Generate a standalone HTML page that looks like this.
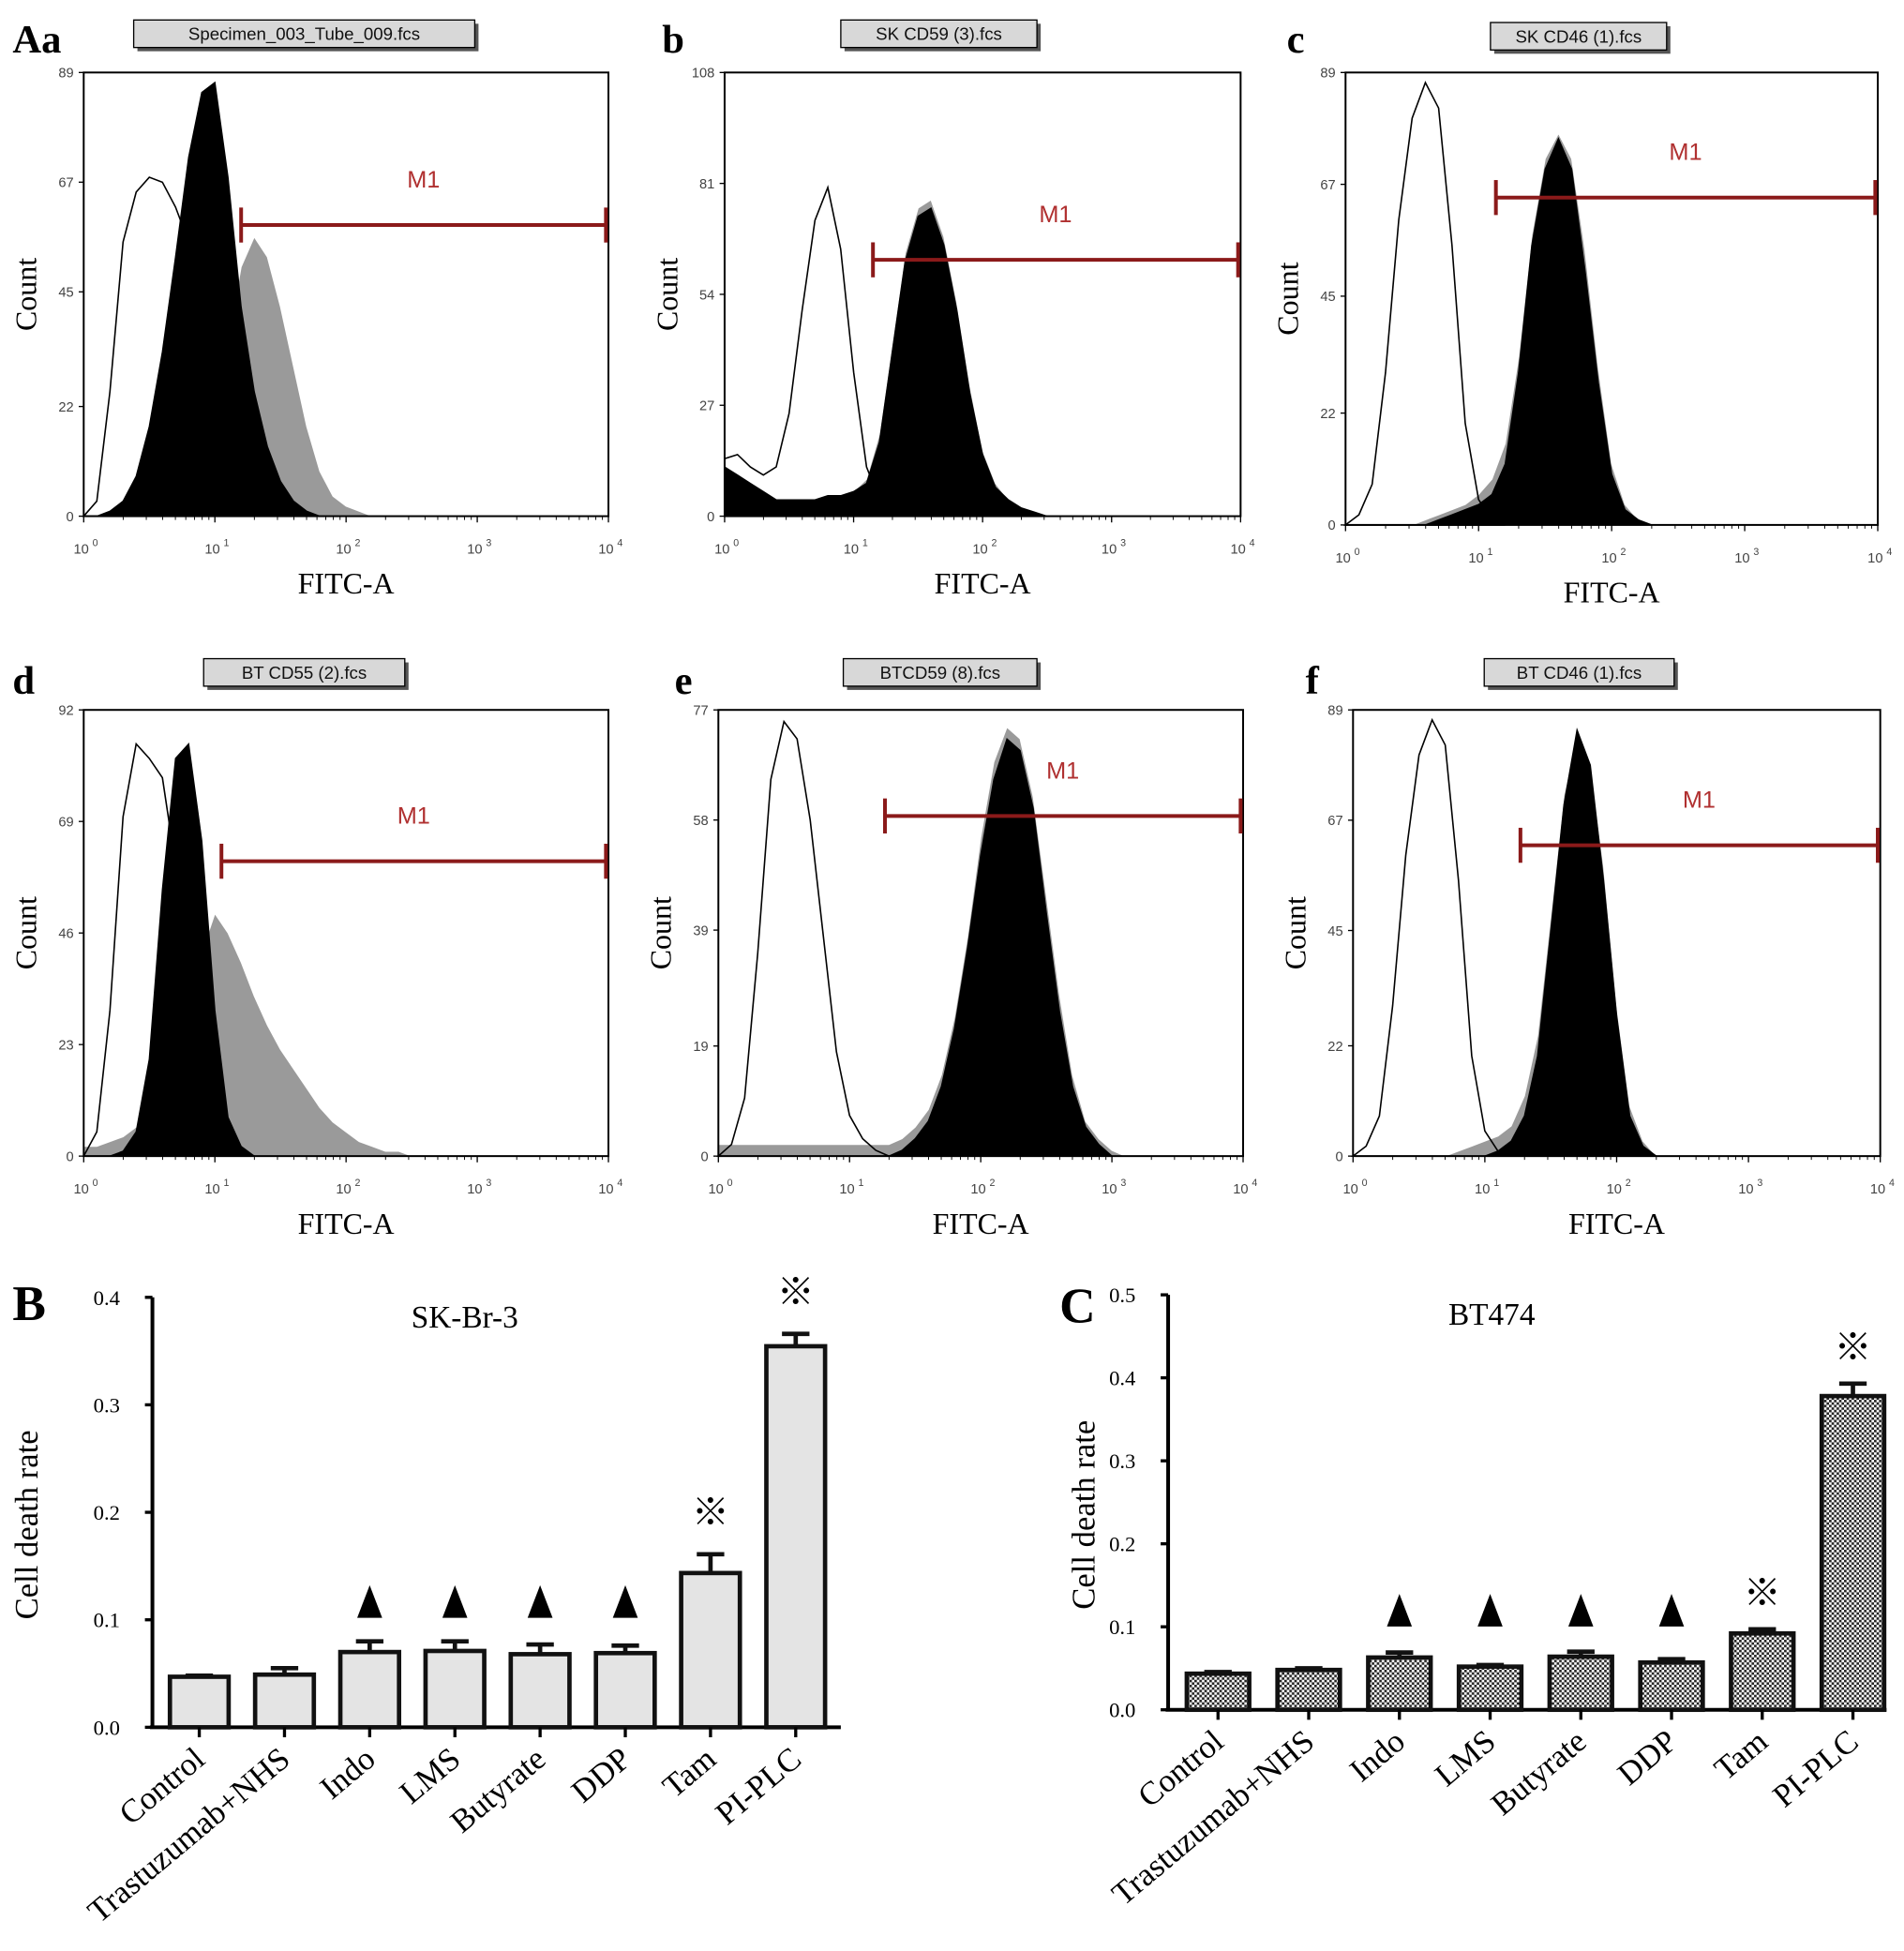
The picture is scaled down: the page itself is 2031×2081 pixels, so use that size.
<!DOCTYPE html>
<html><head><meta charset="utf-8"><style>
html,body{margin:0;padding:0;background:#fff;}
svg{display:block;}
</style></head><body>
<svg id="fig" width="2031" height="2081" viewBox="0 0 1524 1561" preserveAspectRatio="none" xmlns="http://www.w3.org/2000/svg">
<defs>
<pattern id="chk" width="4" height="4" patternUnits="userSpaceOnUse"><rect width="4" height="4" fill="#fff"/><rect width="2" height="2" fill="#222"/><rect x="2" y="2" width="2" height="2" fill="#222"/></pattern>
</defs>
</svg>
<script>
// ===== Histogram data (counts per 0.1-decade bin starting at 10^0) =====
const panelLetters = ["Aa","b","c","d","e","f"];
const panelTitles = ["Specimen_003_Tube_009.fcs","SK CD59 (3).fcs","SK CD46 (1).fcs","BT CD55 (2).fcs","BTCD59 (8).fcs","BT CD46 (1).fcs"];
const panelYMax = [89,108,89,92,77,89];
const panelYTicks = [[0,22,45,67,89],[0,27,54,81,108],[0,22,45,67,89],[0,23,46,69,92],[0,19,39,58,77],[0,22,45,67,89]];
const xTickExp = [0,1,2,3,4];
const openA = [0,3,25,55,65,68,67,62,55,40,22,10,4,1,0];
const blackA = [0,0,1,3,8,18,33,52,72,85,87,68,42,25,14,7,3,1,0];
const grayA = [0,0,0,0,0,0,0,0,2,8,18,35,50,56,52,42,30,18,9,4,2,1,0];
const openB = [14,15,12,10,12,25,50,72,80,65,35,12,4,2,1,0];
const blackB = [12,10,8,6,4,4,4,4,5,5,6,8,18,40,62,73,75,66,50,30,15,7,4,2,1,0];
const grayB = [10,9,7,5,4,4,4,4,5,5,6,9,20,42,64,75,77,68,52,32,16,8,4,2,1,0];
const openC = [0,2,8,30,60,80,87,82,55,20,5,1,0];
const blackC = [0,0,0,0,0,0,0,1,2,3,4,6,12,30,55,70,76,70,50,28,10,3,1,0];
const grayC = [0,0,0,0,0,0,1,2,3,4,6,9,16,33,57,72,77,72,54,31,12,4,1,0];
const openD = [0,5,30,70,85,82,78,60,40,20,10,4,1,0];
const blackD = [0,0,0,1,5,20,55,82,85,65,30,8,2,0];
const grayD = [2,2,3,4,6,8,12,20,32,42,50,46,40,33,27,22,18,14,10,7,5,3,2,1,1,0];
const openE = [0,2,10,35,65,75,72,58,38,18,7,3,1,0];
const blackE = [0,0,0,0,0,0,0,0,0,0,0,0,0,0,1,3,6,12,22,36,52,65,72,70,60,42,25,12,5,2,0];
const grayE = [2,2,2,2,2,2,2,2,2,2,2,2,2,2,3,5,8,14,24,38,55,68,74,72,62,45,28,14,6,3,1,0];
const openF = [0,2,8,30,60,80,87,82,55,20,5,1,0];
const blackF = [0,0,0,0,0,0,0,0,0,0,0,1,3,8,20,45,70,85,78,55,28,8,2,0];
const grayF = [0,0,0,0,0,0,0,0,1,2,3,4,6,12,24,48,72,84,78,58,30,10,3,0];
const openSeries = [openA,openB,openC,openD,openE,openF];
const blackSeries = [blackA,blackB,blackC,blackD,blackE,blackF];
const graySeries = [grayA,grayB,grayC,grayD,grayE,grayF];
const markerStartLog = [1.2,1.15,1.13,1.05,1.27,1.27];
const markerHeight = [58.4,62.4,64.4,60.8,58.7,62];

// ===== Bar chart data =====
const categories = ["Control","Trastuzumab+NHS","Indo","LMS","Butyrate","DDP","Tam","PI-PLC"];
const skValues = [0.047,0.049,0.070,0.071,0.068,0.069,0.1435,0.3545];
const skErrors = [0.001,0.006,0.010,0.009,0.009,0.007,0.0175,0.0115];
const skTicks = [0.0,0.1,0.2,0.3,0.4];
const btValues = [0.0435,0.048,0.063,0.052,0.064,0.057,0.092,0.378];
const btErrors = [0.002,0.002,0.006,0.002,0.006,0.004,0.005,0.015];
const btTicks = [0.0,0.1,0.2,0.3,0.4,0.5];
const triangleCats = [2,3,4,5];
const starCats = [6,7];

const svg = document.getElementById('fig');
const NS = "http://www.w3.org/2000/svg";
function mk(tag, attrs, parent, text){
  const e = document.createElementNS(NS, tag);
  for (const k in attrs) e.setAttribute(k, attrs[k]);
  if (text !== undefined) e.textContent = text;
  (parent||svg).appendChild(e);
  return e;
}

const boxes = [
  {x0:67,x1:487,y0:58,y1:413, lx:10,ly:42, tx:107,tw:273,ty:16},
  {x0:580,x1:993,y0:58,y1:413, lx:530,ly:42, tx:673,tw:157,ty:16},
  {x0:1077,x1:1503,y0:58,y1:420, lx:1030,ly:42, tx:1193,tw:141,ty:18},
  {x0:67,x1:487,y0:568,y1:925, lx:10,ly:555, tx:163,tw:161,ty:527},
  {x0:575,x1:995,y0:568,y1:925, lx:540,ly:555, tx:675,tw:155,ty:527},
  {x0:1083,x1:1505,y0:568,y1:925, lx:1045,ly:555, tx:1188,tw:152,ty:527}
];

for (let p=0;p<6;p++){
  const b = boxes[p];
  const g = mk('g', {});
  
  
  const xs = lg => b.x0 + (b.x1-b.x0)*lg/4;
  const ys = c => b.y1 - (b.y1-b.y0)*c/panelYMax[p];
  function areaPath(arr){
    let d = 'M'+xs(0)+','+ys(0);
    for (let i=0;i<arr.length;i++){ d += ' L'+xs(i*0.1).toFixed(1)+','+ys(arr[i]).toFixed(1); }
    d += ' L'+xs((arr.length-1)*0.1).toFixed(1)+','+ys(0)+' Z';
    return d;
  }
  const gp = mk('path',{d:areaPath(graySeries[p]),fill:'#9a9a9a',stroke:'#fff','stroke-width':0.8},g);
  
  
  const bp = mk('path',{d:areaPath(blackSeries[p]),fill:'#000',stroke:'#000','stroke-width':1},g);
  
  
  const op = mk('path',{d:areaPath(openSeries[p]),fill:'none',stroke:'#000','stroke-width':1.2},g);
  
  
  const fr = mk('rect',{x:b.x0,y:b.y0,width:b.x1-b.x0,height:b.y1-b.y0,fill:'none',stroke:'#000','stroke-width':1.5},g);
  
  
  panelYTicks[p].forEach(t=>{
    mk('line',{x1:b.x0-4,x2:b.x0,y1:ys(t),y2:ys(t),stroke:'#000'},g);
    const tl = mk('text',{x:b.x0-8,y:ys(t)+4,'text-anchor':'end','font-family':'Liberation Sans, sans-serif','font-size':11,fill:'#444'},g,String(t));
    
    
  });
  xTickExp.forEach(e=>{
    mk('line',{x1:xs(e),x2:xs(e),y1:b.y1,y2:b.y1+5,stroke:'#000'},g);
    for (let m=2;m<10;m++){ const lx = xs(e+Math.log10(m)); if (e<4) mk('line',{x1:lx,x2:lx,y1:b.y1,y2:b.y1+3,stroke:'#000','stroke-width':0.7},g); }
    const tl = mk('text',{x:xs(e)-2,y:b.y1+30,'text-anchor':'middle','font-family':'Liberation Sans, sans-serif','font-size':11,fill:'#444'},g,'10');
    
    
    mk('text',{x:xs(e)+7,y:b.y1+24,'font-family':'Liberation Sans, sans-serif','font-size':8,fill:'#444'},g,String(e));
  });
  const xt = mk('text',{x:(b.x0+b.x1)/2,y:b.y1+62,'text-anchor':'middle','font-family':'Liberation Serif, serif','font-size':24},g,'FITC-A');
  
  
  const cy = (b.y0+b.y1)/2;
  const yt = mk('text',{x:b.x0-38,y:cy,'text-anchor':'middle','font-family':'Liberation Serif, serif','font-size':24,transform:'rotate(-90 '+(b.x0-38)+' '+cy+')'},g,'Count');
  
  
  mk('rect',{x:b.tx+3,y:b.ty+3,width:b.tw,height:22,fill:'#555'},g);
  const tb = mk('rect',{x:b.tx,y:b.ty,width:b.tw,height:22,fill:'#d8d8d8',stroke:'#000','stroke-width':1},g);
  
  
  const tt = mk('text',{x:b.tx+b.tw/2,y:b.ty+16,'text-anchor':'middle','font-family':'Liberation Sans, sans-serif','font-size':14,fill:'#111'},g,panelTitles[p]);
  
  
  const pl = mk('text',{x:b.lx,y:b.ly,'font-family':'Liberation Serif, serif','font-size':32,'font-weight':'bold'},g,panelLetters[p]);
  
  
  const mx0 = xs(markerStartLog[p]), mx1 = b.x1-2, my = ys(markerHeight[p]);
  const mg = mk('g',{stroke:'#8b1a1a','stroke-width':3},g);
  
  
  mk('line',{x1:mx0,x2:mx1,y1:my,y2:my},mg);
  mk('line',{x1:mx0,x2:mx0,y1:my-14,y2:my+14},mg);
  mk('line',{x1:mx1,x2:mx1,y1:my-14,y2:my+14},mg);
  const ml = mk('text',{x:(mx0+mx1)/2,y:my-30,'text-anchor':'middle','font-family':'Liberation Sans, sans-serif','font-size':19,fill:'#b03030'},g,'M1');
  
  
}

function barChart(cfg){
  const g = mk('g',{});
  
  
  const ymax = cfg.ticks[cfg.ticks.length-1];
  const ys = v => cfg.y0 - (cfg.y0-cfg.yTop)*v/ymax;
  const xc = i => cfg.ax + cfg.step*(i+0.55);
  mk('line',{x1:cfg.ax,x2:cfg.ax,y1:cfg.yTop,y2:cfg.y0,stroke:'#000','stroke-width':3},g);
  mk('line',{x1:cfg.ax-2,x2:cfg.xEnd,y1:cfg.y0,y2:cfg.y0,stroke:'#000','stroke-width':3},g);
  cfg.ticks.forEach(t=>{
    mk('line',{x1:cfg.ax-6,x2:cfg.ax,y1:ys(t),y2:ys(t),stroke:'#000','stroke-width':2.5},g);
    const tl = mk('text',{x:cfg.ax-26,y:ys(t)+6,'text-anchor':'end','font-family':'Liberation Serif, serif','font-size':17},g,t.toFixed(1));
    
    
  });
  cfg.values.forEach((v,i)=>{
    const x = xc(i);
    const r = mk('rect',{x:x-cfg.bw/2,y:ys(v),width:cfg.bw,height:cfg.y0-ys(v),fill:cfg.fill,stroke:'#111','stroke-width':3.5},g);
    
    
    const et = ys(v+cfg.errors[i]);
    const eb = mk('path',{d:'M'+x+','+ys(v)+' L'+x+','+et+' M'+(x-11)+','+et+' L'+(x+11)+','+et,stroke:'#111','stroke-width':3.5,fill:'none'},g);
    
    
    mk('line',{x1:x,x2:x,y1:cfg.y0,y2:cfg.y0+8,stroke:'#000','stroke-width':2.5},g);
    const lab = mk('text',{x:x+6,y:cfg.y0+28,'text-anchor':'end','font-family':'Liberation Serif, serif','font-size':26,transform:'rotate(-40 '+(x+6)+' '+(cfg.y0+28)+')'},g,categories[i]);
    
    
  });
  triangleCats.forEach(i=>{
    const x = xc(i), y = ys(cfg.triV);
    const t = mk('path',{d:'M'+x+','+(y-13)+' L'+(x+10)+','+(y+13)+' L'+(x-10)+','+(y+13)+' Z',fill:'#000'},g);
    
    
  });
  starCats.forEach(i=>{
    const y = ys(cfg.values[i]+cfg.errors[i]+cfg.starOff);
    const s = mk('text',{x:xc(i),y:y+11,'text-anchor':'middle','font-family':'Liberation Sans, Noto Sans CJK JP, sans-serif','font-size':30},g,'※');
    
    
  });
  const ti = mk('text',{x:cfg.titleX,y:cfg.yTop+24,'text-anchor':'middle','font-family':'Liberation Serif, serif','font-size':25},g,cfg.title);
  
  
  const cy = (cfg.yTop+cfg.y0)/2 + 10;
  const yt = mk('text',{x:cfg.ytx,y:cy,'text-anchor':'middle','font-family':'Liberation Serif, serif','font-size':26,transform:'rotate(-90 '+cfg.ytx+' '+cy+')'},g,'Cell death rate');
  
  
  const pl = mk('text',{x:cfg.lx,y:cfg.ly,'font-family':'Liberation Serif, serif','font-size':40,'font-weight':'bold'},g,cfg.letter);
  
  
}
barChart({name:'bar-chart-sk-br-3',values:skValues,errors:skErrors,ticks:skTicks,ax:122,y0:1382,yTop:1038,step:68.2,bw:47,xEnd:673,fill:'#e4e4e4',title:'SK-Br-3',titleX:372,ytx:30,letter:'B',lx:10,ly:1056,triV:0.117,starOff:0.04});
barChart({name:'bar-chart-bt474',values:btValues,errors:btErrors,ticks:btTicks,ax:935,y0:1368,yTop:1036,step:72.6,bw:50,xEnd:1510,fill:'url(#chk)',title:'BT474',titleX:1194,ytx:876,letter:'C',lx:848,ly:1058,triV:0.12,starOff:0.045});
</script>
</body></html>
